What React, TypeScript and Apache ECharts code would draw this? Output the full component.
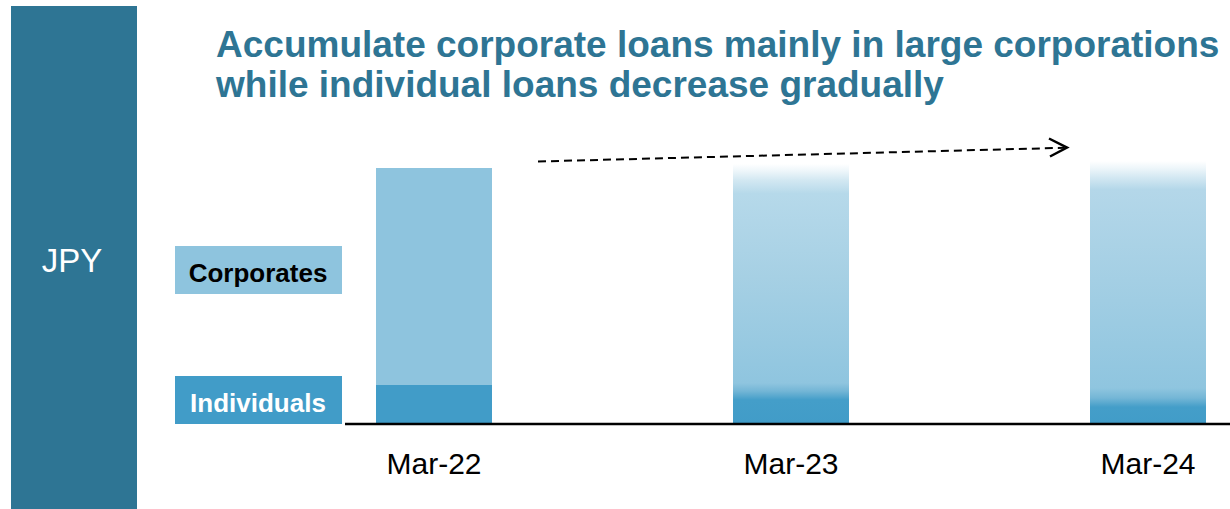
import React, { useEffect, useRef } from "react";
import * as echarts from "echarts";

const categories = ["Mar-22", "Mar-23", "Mar-24"];
const individuals = [15.6, 13.2, 10.4];
const corporates = [86.8, 90.8, 94.8];
const titleLines = [
  "Accumulate corporate loans mainly in large corporations",
  "while individual loans decrease gradually",
];
const legendNames = ["Corporates", "Individuals"];
const unitLabel = "JPY";

const FONT = 'Arial, "Liberation Sans", Helvetica, sans-serif';
const TEAL = "#2E7594";
const CORP = "#8EC4DE";
const IND = "#419CC8";

const grad = (stops: [number, string][]) =>
  new echarts.graphic.LinearGradient(
    0,
    0,
    0,
    1,
    stops.map(([offset, color]) => ({ offset, color }))
  );

// visual style per category (index aligned with categories)
const corpStyles = [
  { color: CORP },
  {
    color: grad([
      [0, "#FFFFFF"],
      [0.03, "#EEF6FA"],
      [0.07, "#D3E8F2"],
      [0.13, "#B6D9EA"],
      [0.5, "#A6D0E4"],
      [0.965, "#8FC5DF"],
      [1, "#74B6D6"],
    ]),
  },
  {
    color: grad([
      [0, "#FFFFFF"],
      [0.03, "#EEF6FA"],
      [0.07, "#D3E8F2"],
      [0.12, "#B4D7E9"],
      [0.5, "#A4CFE4"],
      [0.958, "#8FC5DF"],
      [1, "#74B6D6"],
    ]),
  },
];
const indStyles = [
  { color: IND },
  {
    color: grad([
      [0, "#74B6D6"],
      [0.27, "#449EC9"],
      [1, IND],
    ]),
  },
  {
    color: grad([
      [0, "#74B6D6"],
      [0.35, "#449EC9"],
      [1, IND],
    ]),
  },
];

export default function App() {
  const ref = useRef<HTMLDivElement>(null);

  useEffect(() => {
    if (!ref.current) return;
    const chart = echarts.init(ref.current, undefined, { renderer: "svg" });
    chart.setOption({
      animation: false,
      backgroundColor: "#FFFFFF",
      title: {
        text: titleLines.join("\n"),
        left: 211,
        top: 19,
        textStyle: {
          fontFamily: FONT,
          fontSize: 37,
          fontWeight: "bold",
          color: TEAL,
          lineHeight: 40,
        },
      },
      grid: { left: 434, right: 82, top: 124, bottom: 85 },
      xAxis: {
        type: "category",
        data: categories,
        boundaryGap: false,
        axisLine: { show: false },
        axisTick: { show: false },
        axisLabel: {
          margin: 24,
          fontFamily: FONT,
          fontSize: 30,
          color: "#000000",
        },
        splitLine: { show: false },
      },
      yAxis: {
        type: "value",
        min: 0,
        max: 120,
        show: false,
        splitLine: { show: false },
      },
      series: [
        {
          name: legendNames[1],
          type: "bar",
          stack: "total",
          barWidth: 116,
          data: individuals.map((v, i) => ({ value: v, itemStyle: indStyles[i] })),
        },
        {
          name: legendNames[0],
          type: "bar",
          stack: "total",
          barWidth: 116,
          data: corporates.map((v, i) => ({ value: v, itemStyle: corpStyles[i] })),
        },
      ],
      graphic: [
        {
          type: "rect",
          shape: { x: 11, y: 6, width: 126, height: 510 },
          style: { fill: TEAL },
          silent: true,
        },
        {
          type: "text",
          x: 72,
          y: 260,
          style: {
            text: unitLabel,
            fill: "#FFFFFF",
            font: `33px ${FONT}`,
            textAlign: "center",
            textVerticalAlign: "middle",
          },
        },
        {
          type: "rect",
          shape: { x: 175, y: 246, width: 167, height: 48 },
          style: { fill: CORP },
        },
        {
          type: "text",
          x: 258,
          y: 273,
          style: {
            text: legendNames[0],
            fill: "#000000",
            font: `bold 26px ${FONT}`,
            textAlign: "center",
            textVerticalAlign: "middle",
          },
        },
        {
          type: "rect",
          shape: { x: 175, y: 376, width: 167, height: 48 },
          style: { fill: IND },
        },
        {
          type: "text",
          x: 258,
          y: 403,
          style: {
            text: legendNames[1],
            fill: "#FFFFFF",
            font: `bold 26px ${FONT}`,
            textAlign: "center",
            textVerticalAlign: "middle",
          },
        },
        {
          type: "line",
          shape: { x1: 345, y1: 424, x2: 1230, y2: 424 },
          style: { stroke: "#000000", lineWidth: 2.5 },
          z: 10,
        },
        {
          type: "line",
          shape: { x1: 538, y1: 161.5, x2: 1064, y2: 147.8 },
          style: { stroke: "#000000", lineWidth: 2, lineDash: [8, 5] },
        },
        {
          type: "polyline",
          shape: { points: [[1049, 138.5], [1067, 147.6], [1050, 156.5]] },
          style: { stroke: "#000000", lineWidth: 2.5, fill: null },
        },
      ],
    });
    return () => chart.dispose();
  }, []);

  return (
    <div
      ref={ref}
      style={{ position: "fixed", left: 0, top: 0, width: 1230, height: 509 }}
    />
  );
}
